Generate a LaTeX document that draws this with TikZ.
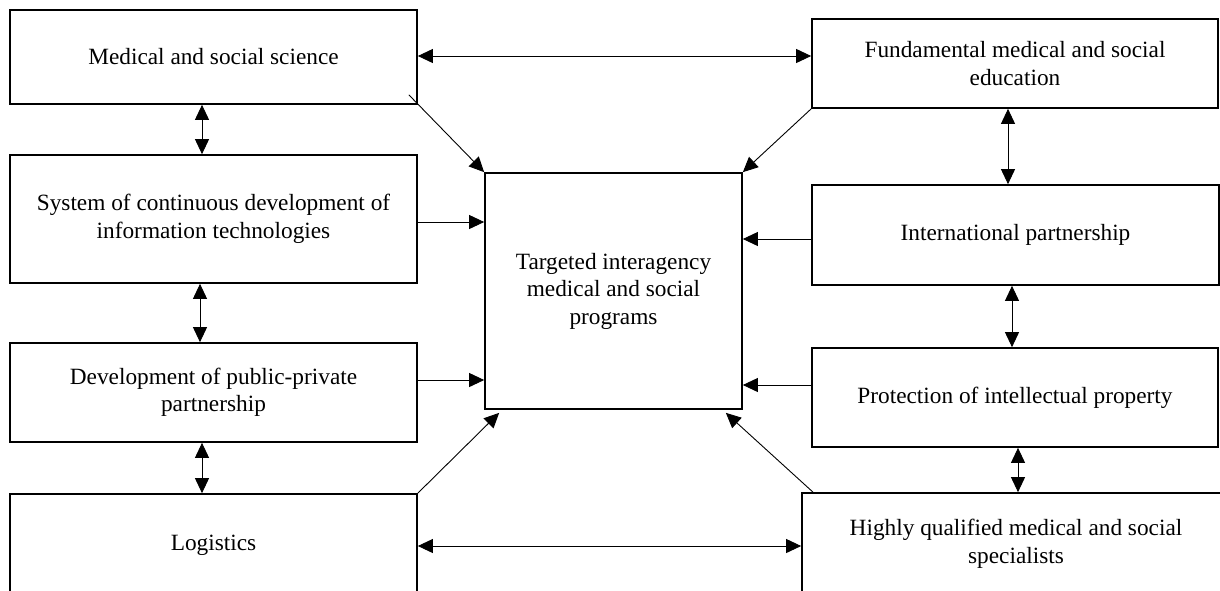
\documentclass[tikz,border=0pt]{standalone}
\usepackage{fontspec}
\setmainfont{Liberation Serif}
\usetikzlibrary{arrows.meta,calc}
\begin{document}
\begin{tikzpicture}[x=1pt,y=-1pt,
  box/.style={draw, line width=1.7pt, rectangle, inner sep=0pt, align=center,
    font=\fontsize{23.3}{27.5}\selectfont},
  tip/.style={Triangle[length=15pt,width=14pt]},
  link/.style={line width=0.9pt, -{Triangle[length=15pt,width=14pt]}},
  both/.style={line width=0.9pt, {Triangle[length=15pt,width=14pt]}-{Triangle[length=15pt,width=14pt]}}]
\useasboundingbox (0,0) rectangle (1220,590);

% left column
\node[box, minimum width=407pt, minimum height=94pt]  (L1) at (213.5,57)  {Medical and social science};
\node[box, minimum width=407pt, minimum height=128pt] (L2) at (213.5,219) {System of continuous development of\\information technologies};
\node[box, minimum width=407pt, minimum height=99pt]  (L3) at (213.5,392.5) {Development of public-private\\partnership};
\node[box, minimum width=407pt, minimum height=102pt] (L4) at (213.5,545) {Logistics};

% centre
\node[box, minimum width=257pt, minimum height=236pt] (C) at (613.5,291) {Targeted interagency\\medical and social\\programs};

% right column
\node[box, minimum width=406pt, minimum height=89pt]  (R1) at (1015,63.5) {Fundamental medical and social\\education};
\node[box, minimum width=407pt, minimum height=100pt] (R2) at (1015.5,235) {International partnership};
\node[box, minimum width=406pt, minimum height=99pt]  (R3) at (1015,397.5) {Protection of intellectual property};
\node[box, minimum width=428pt, minimum height=102pt] (R4) at (1016,544) {Highly qualified medical and social\\specialists};

% horizontal two-way links across the top and bottom
\draw[both] (L1.east |- 0,56) -- (R1.west |- 0,56);
\draw[both] (L4.east |- 0,546) -- (R4.west |- 0,546);

% vertical two-way links within the columns
\draw[both] (L1.south -| 202,0) -- (L2.north -| 202,0);
\draw[both] (L2.south -| 200,0) -- (L3.north -| 200,0);
\draw[both] (L3.south -| 202,0) -- (L4.north -| 202,0);
\draw[both] (R1.south -| 1008,0) -- (R2.north -| 1008,0);
\draw[both] (R2.south -| 1012,0) -- (R3.north -| 1012,0);
\draw[both] (R3.south -| 1018,0) -- (R4.north -| 1018,0);

% inputs to the centre
\draw[link] (L2.east |- 0,222) -- (C.west |- 0,222);
\draw[link] (L3.east |- 0,380) -- (C.west |- 0,380);
\draw[link] (R2.west |- 0,239) -- (C.east |- 0,239);
\draw[link] (R3.west |- 0,385) -- (C.east |- 0,385);

% diagonal inputs
\draw[link] ($(L1.south east)+(-9,-10)$) -- (C.north west);
\draw[link] (R1.south west) -- (C.north east);
\draw[link] (L4.north east) -- ($(C.south west)+(15,3)$);
\draw[link] (R4.north west -| 813,0) -- ($(C.south east)+(-17,3)$);
\end{tikzpicture}
\end{document}
